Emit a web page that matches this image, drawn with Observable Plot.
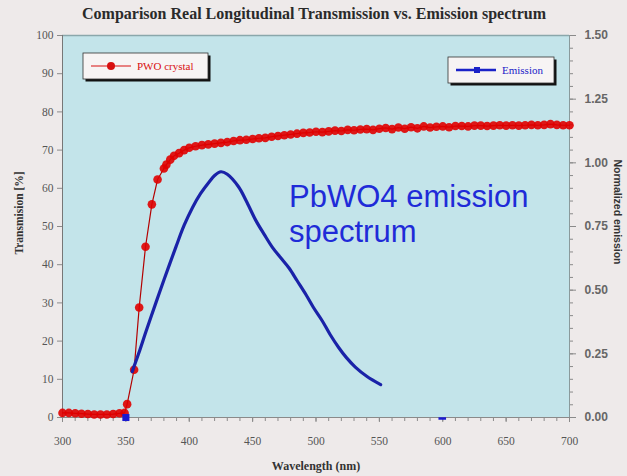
<!DOCTYPE html>
<html><head><meta charset="utf-8">
<script src="https://cdn.jsdelivr.net/npm/d3@7"></script>
<script src="https://cdn.jsdelivr.net/npm/@observablehq/plot@0.6"></script>
<style>
html,body{margin:0;padding:0;background:#eeeaea;}
#chart{width:627px;height:476px;position:relative;overflow:hidden;}
</style></head><body><div id="chart"></div>
<script>
const titleText = "Comparison Real Longitudinal Transmission vs. Emission spectrum";
const xLabel = "Wavelength (nm)";
const yLeftLabel = "Transmision [%]";
const yRightLabel = "Normalized emission";
const annotationLines = ["PbWO4 emission", "spectrum"];
const legendTrans = "PWO crystal";
const legendEmis = "Emission";

const transWl = [300,305,310,315,320,325,330,335,340,345,349,351,356.5,360.5,365.5,370.5,375,380,382,385,388,392,396,400,405,410,415,420,425,430,435,440,445,450,455,460,465,470,475,480,485,490,495,500,505,510,515,520,525,530,535,540,545,550,555,560,565,570,575,580,585,590,595,600,605,610,615,620,625,630,635,640,645,650,655,660,665,670,675,680,685,690,695,700];
const transVal = [1.2,1.2,1.1,1.0,0.9,0.8,0.8,0.8,0.9,1.1,1.2,3.5,12.5,28.8,44.7,55.8,62.3,65.2,66.2,67.5,68.5,69.2,70.0,70.6,71.0,71.3,71.5,71.7,71.9,72.1,72.4,72.6,72.7,72.9,73.1,73.2,73.5,73.7,73.9,74.1,74.3,74.5,74.6,74.8,74.7,74.9,75.1,75.0,75.3,75.2,75.4,75.5,75.3,75.6,75.8,75.5,75.9,75.6,76.0,75.7,76.2,75.9,76.1,76.2,76.0,76.3,76.3,76.2,76.4,76.4,76.3,76.4,76.5,76.4,76.5,76.4,76.5,76.6,76.5,76.6,76.8,76.6,76.5,76.5];

const emisWl = [355,360,366,374,380,389.5,396,402.6,409,415.7,420,425,430,439,445,452.5,459,465.6,472,478.7,485,491.9,498,505,511,518,524,531,540,551];
const emisVal = [0.18,0.25,0.34,0.455,0.54,0.67,0.755,0.825,0.88,0.925,0.95,0.965,0.955,0.905,0.85,0.774,0.72,0.668,0.628,0.587,0.538,0.484,0.432,0.379,0.327,0.274,0.235,0.198,0.162,0.129];
const emisMarkWl = [350];
const emisMarkVal = [0];
const emisDashWl = [600];
const emisDashVal = [0];

const xTicks = [300,350,400,450,500,550,600,650,700];
const xMinorTicks = d3.range(300, 701, 10);
const yLeftTicks = [0,10,20,30,40,50,60,70,80,90,100];
const yRightTicks = [0,0.25,0.5,0.75,1.0,1.25,1.5];
const yRightMinor = d3.range(0, 1.5001, 0.05);
const rightMax = 1.5;

const toLeft = v => v * 100 / rightMax;
const trans = transWl.map((w, i) => ({wl: w, v: transVal[i]}));
const emis = emisWl.map((w, i) => ({wl: w, v: toLeft(emisVal[i])}));
const emisMarks = emisMarkWl.map((w, i) => ({wl: w, v: toLeft(emisMarkVal[i])}));
const emisDash = emisDashWl.map((w, i) => ({wl: w, v: toLeft(emisDashVal[i])}));

const serif = "Liberation Serif, Times New Roman, serif";
const sans = "Liberation Sans, Arial, sans-serif";

const plot = Plot.plot({
  width: 627, height: 476,
  marginLeft: 62, marginRight: 58, marginTop: 35, marginBottom: 59,
  style: {background: "transparent", fontFamily: serif, fontSize: "11px", color: "#555", overflow: "visible"},
  x: {domain: [300, 700], label: null},
  y: {domain: [0, 100], label: null},
  marks: [
    Plot.frame({fill: "#c3e4ea", stroke: null}),
    Plot.ruleY([100], {stroke: "#8aa7ab", strokeWidth: 1.5}),
    Plot.axisX({ticks: xMinorTicks, tickSize: 4, tickFormat: () => "", label: null, stroke: "#8a8a8a"}),
    Plot.axisX({ticks: xTicks, tickSize: 5, tickPadding: 14, label: null, stroke: "#8a8a8a", fill: "#555", fontFamily: serif, fontSize: 11.5}),
    Plot.axisY({ticks: yLeftTicks, tickSize: 5, tickPadding: 4, label: null, stroke: "#8a8a8a", fill: "#555", fontFamily: serif, fontSize: 11.5}),
    Plot.axisY({anchor: "right", ticks: yRightMinor.map(toLeft), tickSize: 3, tickFormat: () => "", label: null, stroke: "#8a8a8a"}),
    Plot.axisY({anchor: "right", ticks: yRightTicks.map(toLeft), tickSize: 6, tickPadding: 9, tickFormat: d => (d * rightMax / 100).toFixed(2), label: null, stroke: "#8a8a8a", fill: "#666", fontFamily: sans, fontSize: 12, fontWeight: "bold"}),
    Plot.ruleX([300], {stroke: "#777"}),
    Plot.ruleX([700], {stroke: "#8a9a9c"}),
    Plot.ruleY([0], {stroke: "#8a8a8a"}),
    Plot.line(trans, {x: "wl", y: "v", stroke: "#b30000", strokeWidth: 1.2}),
    Plot.dot(trans, {x: "wl", y: "v", r: 4.3, fill: "#e00000", fillOpacity: 0.9, stroke: null}),
    Plot.line(emis, {x: "wl", y: "v", stroke: "#1a22a8", strokeWidth: 3.2, curve: "catmull-rom"}),
    Plot.dot(emisMarks, {x: "wl", y: "v", symbol: "square", r: 4, fill: "#1a1ad0", stroke: null}),
    Plot.ruleY(emisDash, {y: "v", x1: d => d.wl - 3, x2: d => d.wl + 3, stroke: "#1a1ad0", strokeWidth: 2.5, dy: 1})
  ]
});
document.getElementById("chart").appendChild(plot);

const svg = d3.select(plot);
// title
svg.append("text").attr("x", 314).attr("y", 19).attr("text-anchor", "middle")
  .attr("font-family", serif).attr("font-weight", "bold").attr("font-size", 16).attr("fill", "#2a2a2a").text(titleText);
// x label
svg.append("text").attr("x", 316).attr("y", 470).attr("text-anchor", "middle")
  .attr("font-family", serif).attr("font-weight", "bold").attr("font-size", 12).attr("fill", "#333").text(xLabel);
// left label
svg.append("text").attr("transform", "translate(23,213) rotate(-90)").attr("text-anchor", "middle")
  .attr("font-family", serif).attr("font-weight", "bold").attr("font-size", 11.5).attr("fill", "#333").text(yLeftLabel);
// right label
svg.append("text").attr("transform", "translate(614,212) rotate(90)").attr("text-anchor", "middle")
  .attr("font-family", sans).attr("font-weight", "bold").attr("font-size", 10.5).attr("fill", "#333").text(yRightLabel);
// annotation
annotationLines.forEach((t, i) => {
  svg.append("text").attr("x", 289).attr("y", 207 + i * 35).attr("text-anchor", "start")
    .attr("font-family", sans).attr("font-size", 31).attr("fill", "#1f2bd8").text(t);
});
// legends
function legend(x, y, w, h, color, symbol, label) {
  const g = svg.append("g");
  g.append("rect").attr("x", x + 2.5).attr("y", y + 2.5).attr("width", w).attr("height", h).attr("fill", "#111");
  g.append("rect").attr("x", x).attr("y", y).attr("width", w).attr("height", h).attr("fill", "#f7f4f4").attr("stroke", "#333").attr("stroke-width", 0.8);
  const cy = y + h / 2;
  g.append("line").attr("x1", x + 8).attr("x2", x + 48).attr("y1", cy).attr("y2", cy).attr("stroke", color).attr("stroke-width", symbol === "circle" ? 1.2 : 2.5);
  if (symbol === "circle") g.append("circle").attr("cx", x + 28).attr("cy", cy).attr("r", 4).attr("fill", color);
  else g.append("rect").attr("x", x + 26).attr("y", cy - 3).attr("width", 6).attr("height", 6).attr("fill", color);
  g.append("text").attr("x", x + 54).attr("y", cy + 4).attr("text-anchor", "start").attr("font-family", serif).attr("font-size", 11).attr("fill", color).text(label);
}
legend(83, 53, 125, 26, "#d81010", "circle", legendTrans);
legend(448, 57, 106, 26, "#1a22c8", "square", legendEmis);
</script></body></html>
